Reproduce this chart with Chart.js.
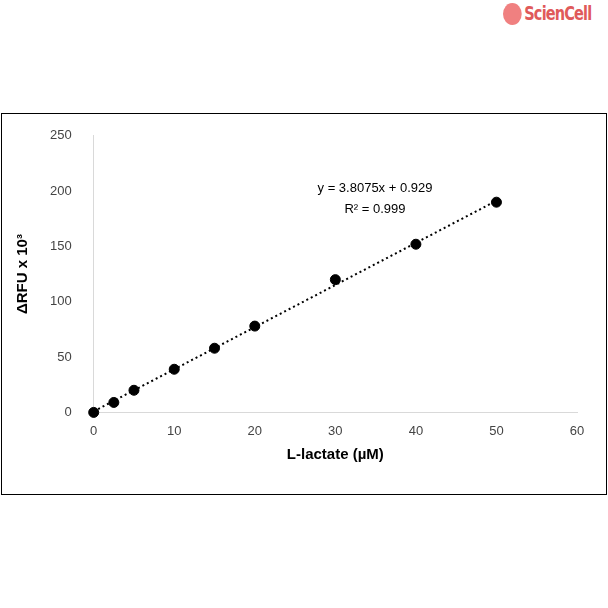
<!DOCTYPE html>
<html><head><meta charset="utf-8">
<script src="https://cdn.jsdelivr.net/npm/chart.js@4/dist/chart.umd.min.js"></script>
<style>
html,body{margin:0;padding:0;background:#fff;overflow:hidden;}
#logo{position:absolute;left:503px;top:2px;white-space:nowrap;font:bold 19px "DejaVu Sans Condensed","Liberation Sans Narrow",sans-serif;color:#e05a5a;letter-spacing:-1px;transform:scaleX(0.85);transform-origin:left top;}
#logo span.dot{display:inline-block;width:22px;height:22px;border-radius:11px;background:#f08080;vertical-align:-5px;margin-right:3px;}
#box{position:absolute;left:1px;top:113px;width:604px;height:380px;border:1.5px solid #000;}
</style></head>
<body>
<div id="logo"><span class="dot"></span>ScienCell</div>
<div id="box"><canvas id="c" width="604" height="380"></canvas></div>
<script>
var concentrations = [0, 2.5, 5, 10, 15, 20, 30, 40, 50];
var rfu = [0, 9, 20, 39, 58, 78, 120, 152, 190];
var slope = 3.8075, intercept = 0.929;

var pts = concentrations.map(function (x, i) { return {x: x, y: rfu[i]}; });

var labels = {
  id: 'labels',
  afterDraw: function (chart) {
    var c = chart.ctx;
    c.save();
    c.fillStyle = '#000';
    c.font = '13px "Liberation Sans", Arial, sans-serif';
    c.textAlign = 'center';
    c.fillText('y = 3.8075x + 0.929', 373, 78);
    c.fillText('R\u00b2 = 0.999', 373, 99);
    c.restore();
  }
};

new Chart(document.getElementById('c').getContext('2d'), {
  type: 'scatter',
  data: {
    datasets: [{
      data: pts,
      backgroundColor: '#000',
      borderColor: '#000',
      pointRadius: 5,
      pointHoverRadius: 5,
      clip: false
    }, {
      type: 'line',
      data: [{x: 0, y: intercept}, {x: 50, y: slope * 50 + intercept}],
      borderColor: '#000',
      borderWidth: 2,
      borderDash: [2, 3],
      pointRadius: 0,
      fill: false
    }]
  },
  options: {
    responsive: false,
    animation: false,
    layout: {padding: {top: 12, right: 29, left: 8, bottom: 26}},
    plugins: {legend: {display: false}, tooltip: {enabled: false}},
    scales: {
      x: {
        type: 'linear', min: 0, max: 60,
        ticks: {stepSize: 10, color: '#444', font: {size: 13, family: 'Liberation Sans'}},
        grid: {display: false},
        border: {color: '#d9d9d9'},
        title: {display: true, text: 'L-lactate (\u00b5M)', color: '#000', font: {size: 15, weight: 'bold', family: 'Liberation Sans'}}
      },
      y: {
        min: 0, max: 250,
        ticks: {stepSize: 50, color: '#444', font: {size: 13, family: 'Liberation Sans'}, padding: 14},
        grid: {display: false},
        border: {color: '#d9d9d9'},
        title: {display: true, text: '\u0394RFU x 10\u00b3', color: '#000', font: {size: 15, weight: 'bold', family: 'Liberation Sans'}}
      }
    }
  },
  plugins: [labels]
});
</script>
</body></html>
